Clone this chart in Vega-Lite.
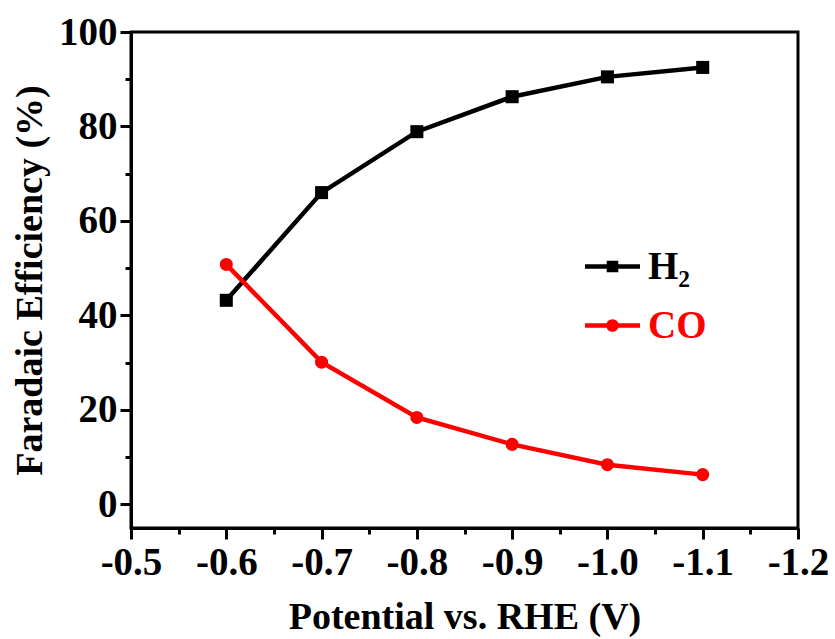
{
  "$schema": "https://vega.github.io/schema/vega-lite/v6.json",
  "width": 667,
  "height": 496,
  "autosize": {"type": "none"},
  "padding": {"left": 131, "top": 32, "right": 37, "bottom": 111},
  "background": "white",
  "config": {
    "font": "Liberation Serif",
    "view": {"stroke": "#000000", "strokeWidth": 3},
    "axis": {
      "domainColor": "#000000",
      "domainWidth": 3,
      "tickColor": "#000000",
      "tickWidth": 3,
      "labelFont": "Liberation Serif",
      "labelFontWeight": "bold",
      "labelFontSize": 39,
      "labelColor": "#000000",
      "titleFont": "Liberation Serif",
      "titleFontWeight": "bold",
      "titleFontSize": 38,
      "titleColor": "#000000",
      "grid": false,
      "labelOverlap": false,
      "labelBound": false,
      "labelFlush": false
    }
  },
  "data": {
    "values": [
      {"Potential": -0.6, "FE": 43.2, "Species": "H₂"},
      {"Potential": -0.7, "FE": 66.0, "Species": "H₂"},
      {"Potential": -0.8, "FE": 78.9, "Species": "H₂"},
      {"Potential": -0.9, "FE": 86.3, "Species": "H₂"},
      {"Potential": -1.0, "FE": 90.5, "Species": "H₂"},
      {"Potential": -1.1, "FE": 92.5, "Species": "H₂"},
      {"Potential": -0.6, "FE": 50.8, "Species": "CO"},
      {"Potential": -0.7, "FE": 30.1, "Species": "CO"},
      {"Potential": -0.8, "FE": 18.4, "Species": "CO"},
      {"Potential": -0.9, "FE": 12.7, "Species": "CO"},
      {"Potential": -1.0, "FE": 8.4, "Species": "CO"},
      {"Potential": -1.1, "FE": 6.3, "Species": "CO"}
    ]
  },
  "encoding": {
    "x": {
      "field": "Potential",
      "type": "quantitative",
      "scale": {"domain": [-1.2, -0.5], "reverse": true, "nice": false, "zero": false},
      "axis": {
        "title": "Potential vs. RHE (V)",
        "values": [-0.5, -0.55, -0.6, -0.65, -0.7, -0.75, -0.8, -0.85, -0.9, -0.95, -1.0, -1.05, -1.1, -1.15, -1.2],
        "labelExpr": "abs(datum.value*10 - round(datum.value*10)) > 0.01 ? '' : (datum.value < 0 ? '-' : '') + format(abs(datum.value), '.1f')",
        "tickSize": {"condition": {"test": "abs(datum.value*10 - round(datum.value*10)) > 0.01", "value": 6}, "value": 11},
        "labelPadding": 4,
        "titlePadding": 16
      }
    },
    "y": {
      "field": "FE",
      "type": "quantitative",
      "scale": {"domain": [-5, 100], "nice": false, "zero": false},
      "axis": {
        "title": "Faradaic Efficiency (%)",
        "values": [0, 10, 20, 30, 40, 50, 60, 70, 80, 90, 100],
        "labelExpr": "datum.value % 20 != 0 ? '' : format(datum.value, 'd')",
        "tickSize": {"condition": {"test": "datum.value % 20 != 0", "value": 6}, "value": 11},
        "labelPadding": 3,
        "titlePadding": 9
      }
    }
  },
  "layer": [
    {
      "mark": {"type": "line", "strokeWidth": 4.5},
      "encoding": {
        "color": {
          "field": "Species",
          "type": "nominal",
          "scale": {"domain": ["H₂", "CO"], "range": ["#000000", "#ff0000"]},
          "legend": {
            "title": null,
            "orient": "none",
            "legendX": 454,
            "legendY": 207,
            "symbolSize": 3025,
            "rowPadding": 11,
            "labelOffset": 8,
            "labelFont": "Liberation Serif",
            "labelFontWeight": "bold",
            "labelFontSize": 39,
            "symbolStrokeWidth": 0,
            "symbolOpacity": 1,
            "encode": {
              "symbols": {
                "update": {
                  "shape": {"signal": "datum.value === 'CO' ? 'M-1,-0.08H1V0.08H-1Z M-0.23,0A0.23,0.23 0 1,1 0.23,0A0.23,0.23 0 1,1 -0.23,0Z' : 'M-1,-0.08H1V0.08H-1Z M-0.21,-0.21H0.21V0.21H-0.21Z'"},
                  "fill": {"signal": "datum.value === 'CO' ? '#ff0000' : '#000000'"},
                  "strokeWidth": {"value": 0},
                  "opacity": {"value": 1}
                }
              },
              "labels": {
                "update": {
                  "fill": {"signal": "datum.value === 'CO' ? '#ff0000' : '#000000'"}
                }
              }
            }
          }
        }
      }
    },
    {
      "transform": [{"filter": "datum.Species === 'H₂'"}],
      "mark": {"type": "point", "shape": "square", "filled": true, "opacity": 1, "size": 170, "color": "#000000"}
    },
    {
      "transform": [{"filter": "datum.Species === 'CO'"}],
      "mark": {"type": "point", "shape": "circle", "filled": true, "opacity": 1, "size": 170, "color": "#ff0000"}
    }
  ]
}
